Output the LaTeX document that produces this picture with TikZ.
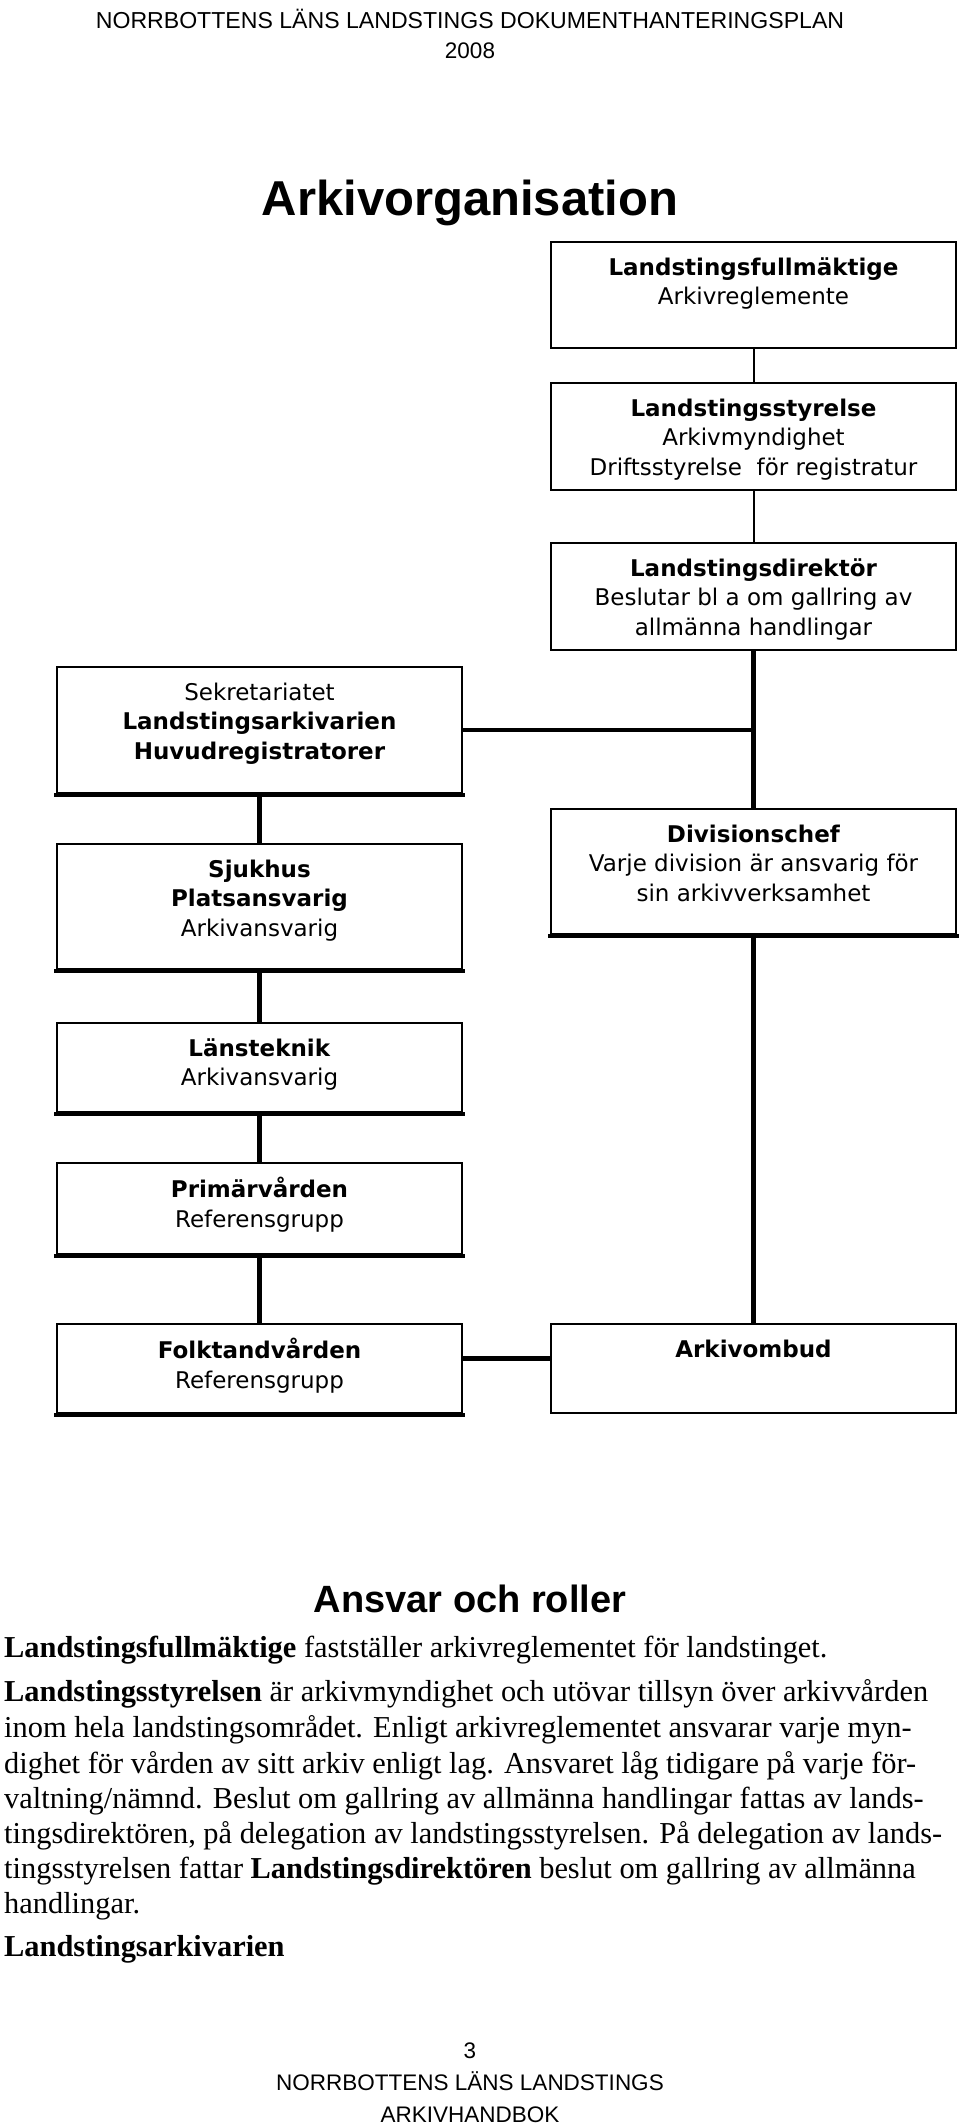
\documentclass[tikz,border=0pt]{standalone}
\usepackage{fontspec}
\setmainfont{Liberation Serif}
\newfontfamily\boxfont{DejaVu Sans}
\newfontfamily\headfont{Liberation Sans}
\usetikzlibrary{calc}
\newcommand{\firststrut}{\rule{0pt}{19pt}}
\tikzset{
  orgbox/.style={draw, line width=2pt, minimum width=405pt, inner sep=0pt, anchor=north west},
  boxtext/.style={anchor=north, yshift=-15pt, inner sep=0pt, align=center, font=\boxfont\fontsize{23}{29.7}\selectfont},
  thinlink/.style={line width=2pt},
  thicklink/.style={line width=4.5pt},
  shadowedge/.style={line width=4pt, line cap=rect},
  bodyline/.style={anchor=base west, inner sep=0pt, font=\fontsize{30.4}{35}\selectfont},
  headline/.style={anchor=base, inner sep=0pt, font=\headfont\fontsize{22.5}{30}\selectfont},
}
\begin{document}
\begin{tikzpicture}[x=1pt, y=-1pt]
\fill[white] (0,0) rectangle (960,2126);
\useasboundingbox (0,0) rectangle (960,2126);

% header
\node[headline, font=\headfont\fontsize{23.1}{30}\selectfont] (h1) at (470,28) {NORRBOTTENS LÄNS LANDSTINGS DOKUMENTHANTERINGSPLAN};
\node[headline] (h2) at (470,58) {2008};
\node[anchor=base, inner sep=0pt, font=\headfont\bfseries\fontsize{49}{56}\selectfont] (title) at (470,215) {Arkivorganisation};

% boxes
\node[orgbox, minimum height=106pt] (B1) at (550,241) {};
\node[orgbox, minimum height=107pt] (B2) at (550,382) {};
\node[orgbox, minimum height=107pt] (B3) at (550,542) {};
\node[orgbox, minimum height=126pt] (S) at (56,666) {};
\node[orgbox, minimum height=125pt] (D) at (550,808) {};
\node[orgbox, minimum height=125pt] (SJ) at (56,843) {};
\node[orgbox, minimum height=89pt] (LT) at (56,1022) {};
\node[orgbox, minimum height=91pt] (PV) at (56,1162) {};
\node[orgbox, minimum height=89pt] (FT) at (56,1323) {};
\node[orgbox, minimum height=89pt] (AO) at (550,1323) {};

% box texts
\node[boxtext] (t1) at (B1.north) {\firststrut\textbf{Landstingsfullmäktige}\\Arkivreglemente};
\node[boxtext] (t2) at (B2.north) {\firststrut\textbf{Landstingsstyrelse}\\Arkivmyndighet\\Driftsstyrelse\ \ för registratur};
\node[boxtext] (t3) at (B3.north) {\firststrut\textbf{Landstingsdirektör}\\Beslutar bl a om gallring av\\allmänna handlingar};
\node[boxtext] (tS) at (S.north) {\firststrut Sekretariatet\\\textbf{Landstingsarkivarien}\\\textbf{Huvudregistratorer}};
\node[boxtext] (tD) at (D.north) {\firststrut\textbf{Divisionschef}\\Varje division är ansvarig för\\sin arkivverksamhet};
\node[boxtext] (tSJ) at (SJ.north) {\firststrut\textbf{Sjukhus}\\\textbf{Platsansvarig}\\Arkivansvarig};
\node[boxtext] (tLT) at (LT.north) {\firststrut\textbf{Länsteknik}\\Arkivansvarig};
\node[boxtext] (tPV) at (PV.north) {\firststrut\textbf{Primärvården}\\Referensgrupp};
\node[boxtext] (tFT) at (FT.north) {\firststrut\textbf{Folktandvården}\\Referensgrupp};
\node[boxtext] (tAO) at (AO.north) {\firststrut\textbf{Arkivombud}};

% thick bottom edges
\foreach \b in {S,D,SJ,LT,PV,FT}{
  \draw[shadowedge] ($(\b.south west)+(0,1)$) -- ($(\b.south east)+(0,1)$);
}

% connectors
\draw[thinlink] (B1.south) -- (B2.north);
\draw[thinlink] (B2.south) -- (B3.north);
\draw[thicklink] (B3.south) -- (D.north);
\draw[line width=3.5pt] (S.east) -- (S.east -| D.north);
\draw[thicklink] (S.south) -- (SJ.north);
\draw[thicklink] (SJ.south) -- (LT.north);
\draw[thicklink] (LT.south) -- (PV.north);
\draw[thicklink] (PV.south) -- (FT.north);
\draw[thicklink] (D.south) -- (AO.north);
\draw[thicklink] ($(FT.east)+(0,-10)$) -- ($(AO.west)+(0,-10)$);

% section text
\node[anchor=base, inner sep=0pt, font=\headfont\bfseries\fontsize{38}{44}\selectfont] (sec) at (470,1612) {Ansvar och roller};
\node[bodyline] (l1) at (4,1657) {\textbf{Landstingsfullmäktige} fastställer arkivreglementet för landstinget.};
\node[bodyline] (l2) at (4,1701) {\textbf{Landstingsstyrelsen} är arkivmyndighet och utövar tillsyn över arkivvården};
\node[bodyline] (l3) at (4,1737) {inom hela landstingsområdet. Enligt arkivreglementet ansvarar varje myn-};
\node[bodyline] (l4) at (4,1773) {dighet för vården av sitt arkiv enligt lag. Ansvaret låg tidigare på varje för-};
\node[bodyline] (l5) at (4,1808) {valtning/nämnd. Beslut om gallring av allmänna handlingar fattas av lands-};
\node[bodyline] (l6) at (4,1843) {tingsdirektören, på delegation av landstingsstyrelsen. På delegation av lands-};
\node[bodyline] (l7) at (4,1878) {tingsstyrelsen fattar \textbf{Landstingsdirektören} beslut om gallring av allmänna};
\node[bodyline] (l8) at (4,1913) {handlingar.};
\node[bodyline] (l9) at (4,1956) {\textbf{Landstingsarkivarien}};

% footer
\node[headline] (f1) at (470,2058) {3};
\node[headline] (f2) at (470,2090) {NORRBOTTENS LÄNS LANDSTINGS};
\node[headline] (f3) at (470,2122) {ARKIVHANDBOK};
\end{tikzpicture}
\end{document}
